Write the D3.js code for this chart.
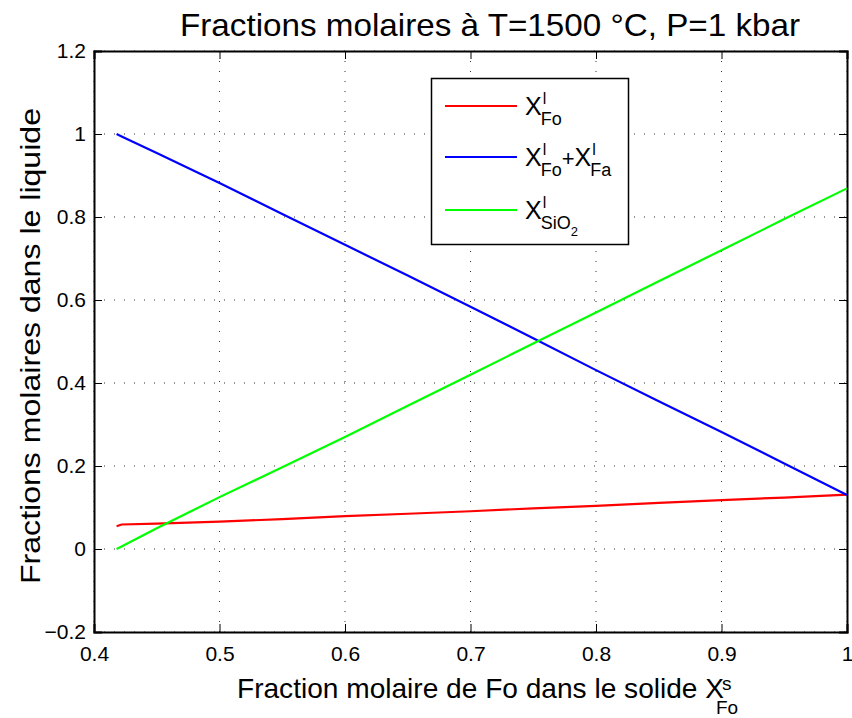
<!DOCTYPE html>
<html><head><meta charset="utf-8">
<script src="https://cdn.jsdelivr.net/npm/d3@7"></script>
<style>body{margin:0;background:#fff}svg{display:block;font-family:"Liberation Sans",Arial,sans-serif}</style>
</head><body>
<svg id="c" width="852" height="718"></svg>
<script>
const xFo   = [0.418, 0.422, 0.45, 0.5, 0.55, 0.6, 0.65, 0.7, 0.75, 0.8, 0.85, 0.9, 0.95, 1.0];
const redFo = [0.055, 0.059, 0.061, 0.066, 0.072, 0.079, 0.085, 0.091, 0.098, 0.104, 0.111, 0.118, 0.124, 0.131];
const blueFoFa = [1.0, 0.994, 0.954, 0.882, 0.807, 0.733, 0.659, 0.584, 0.508, 0.431, 0.356, 0.282, 0.206, 0.13];
const greenSiO2 = [0.0, 0.006, 0.05, 0.125, 0.197, 0.27, 0.345, 0.42, 0.495, 0.57, 0.645, 0.72, 0.795, 0.869];
const xTicks = [0.4, 0.5, 0.6, 0.7, 0.8, 0.9, 1];
const yTicks = [-0.2, 0, 0.2, 0.4, 0.6, 0.8, 1, 1.2];
const yTickLabels = ["\u22120.2", "0", "0.2", "0.4", "0.6", "0.8", "1", "1.2"];

const svg = d3.select("#c");
const L = 94, R = 847, T = 51, B = 632;
const x = d3.scaleLinear().domain([0.4, 1]).range([L, R]);
const y = d3.scaleLinear().domain([-0.2, 1.2]).range([B, T]);

// grid
const g = svg.append("g");
xTicks.forEach(t => g.append("line").attr("x1", x(t)).attr("x2", x(t)).attr("y1", T).attr("y2", B)
  .attr("stroke", "#000").attr("stroke-width", 1).attr("stroke-dasharray", "1,9").attr("opacity", 0.8));
yTicks.forEach(t => g.append("line").attr("y1", y(t)).attr("y2", y(t)).attr("x1", L).attr("x2", R)
  .attr("stroke", "#000").attr("stroke-width", 1).attr("stroke-dasharray", "1,9").attr("opacity", 0.8));

// axes with inward ticks
const ax = svg.append("g");
const gb = ax.append("g").attr("transform", `translate(0,${B})`).call(d3.axisBottom(x).tickValues(xTicks).tickSize(-8).tickPadding(14).tickFormat(d3.format("")));
ax.append("g").attr("transform", `translate(0,${T})`).call(d3.axisTop(x).tickValues(xTicks).tickSize(-8).tickFormat(""));
const gl = ax.append("g").attr("transform", `translate(${L},0)`).call(d3.axisLeft(y).tickValues(yTicks).tickSize(-8).tickPadding(8).tickFormat((d, i) => yTickLabels[i]));
ax.append("g").attr("transform", `translate(${R},0)`).call(d3.axisRight(y).tickValues(yTicks).tickSize(-8).tickFormat(""));
ax.selectAll("g").attr("font-size", 21).attr("font-family", "Liberation Sans, Arial, sans-serif");
ax.selectAll(".domain").attr("stroke", "#000").attr("stroke-width", 2);
ax.selectAll(".tick line").attr("stroke", "#000").attr("stroke-width", 1);
ax.selectAll("text").attr("fill", "#000");
gb.selectAll("text").attr("dy", "0.71em");

// lines
const line = vals => d3.line().x((d, i) => x(xFo[i])).y(d => y(d))(vals);
const series = [[redFo, "#ff0000"], [blueFoFa, "#0000ff"], [greenSiO2, "#00ff00"]];
series.forEach(([v, c]) => svg.append("path").attr("d", line(v)).attr("fill", "none").attr("stroke", c).attr("stroke-width", 2.2));

// title & labels
svg.append("text").attr("x", 490).attr("y", 36).attr("text-anchor", "middle").attr("font-size", 32)
  .attr("textLength", 620).attr("lengthAdjust", "spacingAndGlyphs").text("Fractions molaires à T=1500 °C, P=1 kbar");
svg.append("text").attr("transform", "translate(40,346) rotate(-90)").attr("text-anchor", "middle").attr("font-size", 28)
  .attr("textLength", 476).attr("lengthAdjust", "spacingAndGlyphs").text("Fractions molaires dans le liquide");
svg.append("text").attr("x", 237).attr("y", 698).attr("font-size", 28)
  .attr("textLength", 487).attr("lengthAdjust", "spacingAndGlyphs").text("Fraction molaire de Fo dans le solide X");
svg.append("text").attr("x", 722).attr("y", 690).attr("font-size", 19).text("s");
svg.append("text").attr("x", 716).attr("y", 714).attr("font-size", 19).text("Fo");

// legend
svg.append("rect").attr("x", 431.5).attr("y", 78.5).attr("width", 197).attr("height", 166).attr("fill", "#fff").attr("stroke", "#000").attr("stroke-width", 1.5);
const legY = [106, 157, 210];
const legC = ["#ff0000", "#0000ff", "#00ff00"];
legY.forEach((ly, i) => svg.append("line").attr("x1", 445).attr("x2", 517).attr("y1", ly).attr("y2", ly).attr("stroke", legC[i]).attr("stroke-width", 2.2));
function legTerm(x0, ly, sub) {
  const t = svg.append("text").attr("x", x0).attr("y", ly + 9).attr("font-size", 25).text("X");
  const w = t.node().getComputedTextLength();
  svg.append("text").attr("x", x0 + w + 1).attr("y", ly - 2).attr("font-size", 16).text("l");
  const s = svg.append("text").attr("x", x0 + w - 1).attr("y", ly + 19).attr("font-size", 18).text(sub);
  return x0 + w - 1 + s.node().getComputedTextLength();
}
legTerm(525, legY[0], "Fo");
let e = legTerm(525, legY[1], "Fo");
const p = svg.append("text").attr("x", e).attr("y", legY[1] + 9).attr("font-size", 22).text("+");
legTerm(e + p.node().getComputedTextLength(), legY[1], "Fa");
const tx = svg.append("text").attr("x", 525).attr("y", legY[2] + 9).attr("font-size", 25).text("X");
const wx = tx.node().getComputedTextLength();
svg.append("text").attr("x", 525 + wx + 1).attr("y", legY[2] - 2).attr("font-size", 16).text("l");
const si = svg.append("text").attr("x", 525 + wx - 1).attr("y", legY[2] + 19).attr("font-size", 18).text("SiO");
svg.append("text").attr("x", 525 + wx - 1 + si.node().getComputedTextLength()).attr("y", legY[2] + 26).attr("font-size", 13).text("2");
</script>
</body></html>
